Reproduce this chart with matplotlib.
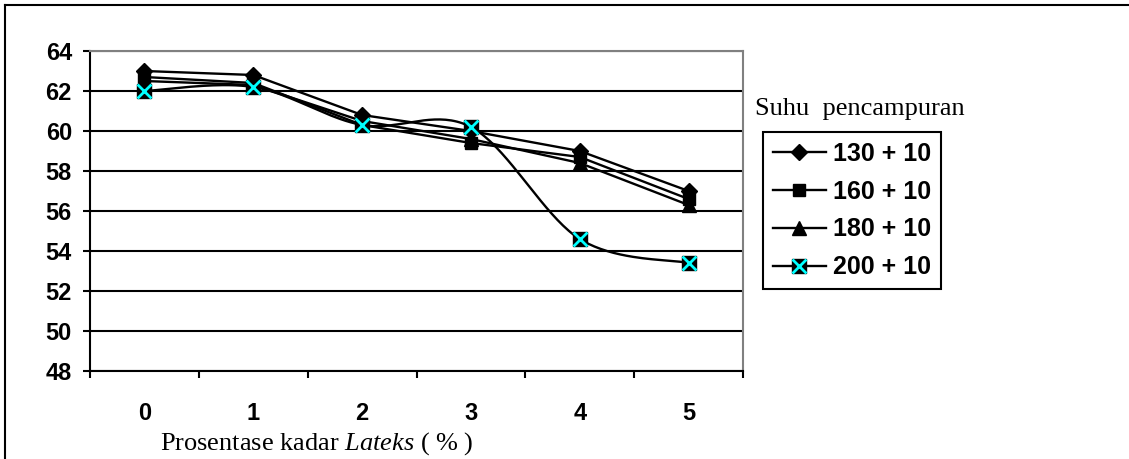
import numpy as np
import matplotlib.pyplot as plt
from matplotlib.lines import Line2D

plt.rcParams["mathtext.fontset"] = "custom"
plt.rcParams["mathtext.rm"] = "Liberation Serif"
plt.rcParams["mathtext.it"] = "Liberation Serif:italic"

# data
kadar = [0, 1, 2, 3, 4, 5]
suhu_130 = [63.0, 62.8, 60.8, 60.0, 59.0, 57.0]
suhu_160 = [62.7, 62.4, 60.3, 59.4, 58.7, 56.6]
suhu_180 = [62.5, 62.3, 60.5, 59.6, 58.4, 56.3]
suhu_200 = [62.0, 62.2, 60.3, 60.2, 54.6, 53.4]
labels = ["130 + 10", "160 + 10", "180 + 10", "200 + 10"]
yticks = [48, 50, 52, 54, 56, 58, 60, 62, 64]


def smooth(xs, ys, n=40):
    # excel style smoothed line (catmull-rom bezier)
    x = np.asarray(xs, float)
    y = np.asarray(ys, float)
    px = np.concatenate([[x[0]], x, [x[-1]]])
    py = np.concatenate([[y[0]], y, [y[-1]]])
    outx, outy = [], []
    t = np.linspace(0, 1, n)
    for i in range(1, len(px) - 2):
        p0 = np.array([px[i], py[i]])
        p3 = np.array([px[i + 1], py[i + 1]])
        c1 = p0 + (p3 - np.array([px[i - 1], py[i - 1]])) / 6
        c2 = p3 - (np.array([px[i + 2], py[i + 2]]) - p0) / 6
        b = ((1 - t) ** 3)[:, None] * p0 + (3 * (1 - t) ** 2 * t)[:, None] * c1 \
            + (3 * (1 - t) * t ** 2)[:, None] * c2 + (t ** 3)[:, None] * p3
        outx.extend(b[:, 0])
        outy.extend(b[:, 1])
    return outx, outy


fig = plt.figure(figsize=(11.29, 4.59), dpi=100)
ax = fig.add_axes([90 / 1129, 1 - 371 / 459, 653 / 1129, 320 / 459])

lw = 1.7
h1, = ax.plot(kadar, suhu_130, color="black", lw=lw, marker="D", ms=8, zorder=3)
h2, = ax.plot(kadar, suhu_160, color="black", lw=lw, marker="s", ms=9, zorder=3)
h3, = ax.plot(kadar, suhu_180, color="black", lw=lw, marker="^", ms=10, zorder=3)
sx, sy = smooth(kadar, suhu_200)
ax.plot(sx, sy, color="black", lw=lw, zorder=3)
ax.plot(kadar, suhu_200, ls="none", marker="s", ms=10, color="black", zorder=4)
ax.plot(kadar, suhu_200, ls="none", marker="x", ms=10, mew=2, color="#00ffff", zorder=5)

ax.set_xlim(-0.5, 5.5)
ax.set_ylim(48, 64)
ax.set_yticks(yticks)
ax.set_xticks(np.arange(-0.5, 6, 1))
ax.set_xticklabels([])
ax.set_xticks(kadar, minor=True)
ax.set_xticklabels([str(k) for k in kadar], minor=True)
ax.tick_params(axis="x", which="major", direction="out", length=5, width=1.5, color="black")
ax.tick_params(axis="x", which="minor", length=0, pad=22, labelsize=17)
ax.tick_params(axis="y", direction="out", length=5, width=1.5, pad=8, labelsize=17)
for lab in ax.get_xticklabels(minor=True) + ax.get_yticklabels():
    lab.set_fontweight("bold")
    lab.set_family("Liberation Sans")

ax.grid(axis="y", color="black", lw=1.5)
ax.set_axisbelow(True)
for s in ["top", "right"]:
    ax.spines[s].set_color("#808080")
    ax.spines[s].set_linewidth(1.5)
for s in ["left", "bottom"]:
    ax.spines[s].set_color("black")
    ax.spines[s].set_linewidth(1.5)

fig.text(160 / 1129, 1 - 444 / 459, r"Prosentase kadar $\mathit{Lateks}$ ( % )",
         family="Liberation Serif", fontsize=19, va="center", ha="left")
fig.text(755 / 1129, 1 - 109 / 459, "Suhu  pencampuran",
         family="Liberation Serif", fontsize=19, va="center", ha="left")

hx_bg = Line2D([], [], color="black", lw=lw, marker="s", ms=10)
hx_fg = Line2D([], [], ls="none", marker="x", ms=10, mew=2, color="#00ffff")
leg = fig.legend([h1, h2, h3, (hx_bg, hx_fg)], labels,
                 loc="upper left", bbox_to_anchor=(763 / 1129, 1 - 132 / 459),
                 prop={"family": "Liberation Sans", "weight": "bold", "size": 18},
                 handlelength=2.1, handletextpad=0.3, labelspacing=0.55,
                 borderpad=0.4, borderaxespad=0, fancybox=False, framealpha=1)
leg.get_frame().set_edgecolor("black")
leg.get_frame().set_linewidth(1.5)

# outer border (only top and left visible)
fig.add_artist(Line2D([5 / 1129, 1], [1 - 5 / 459, 1 - 5 / 459],
                      transform=fig.transFigure, color="black", lw=1.5))
fig.add_artist(Line2D([5 / 1129, 5 / 1129], [0, 1 - 5 / 459],
                      transform=fig.transFigure, color="black", lw=1.5))

fig.savefig("out.png", dpi=100)
